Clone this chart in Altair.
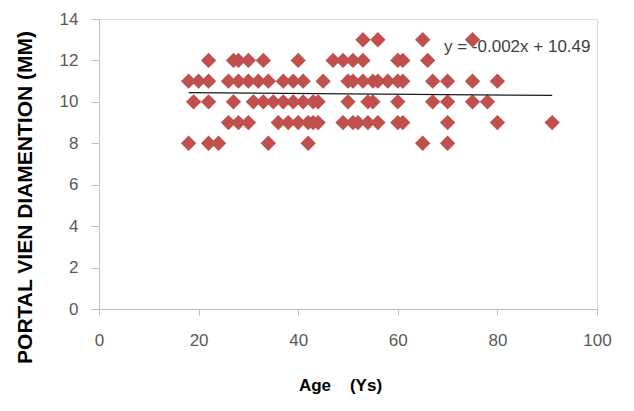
import altair as alt
import pandas as pd

# One list of ages per diameter row (mm)
row_13 = [53, 56, 65, 75]
row_12 = [22, 27, 28, 30, 33, 40, 47, 49, 51, 53, 60, 61, 66]
row_11 = [18, 20, 22, 26, 28, 30, 32, 34, 37, 39, 41, 45, 50, 51, 53, 55, 56, 58, 60, 61, 67, 70, 75, 80]
row_10 = [19, 22, 27, 31, 33, 35, 37, 39, 41, 43, 44, 50, 54, 55, 60, 67, 70, 75, 78]
row_9 = [26, 28, 30, 36, 38, 40, 42, 43, 44, 49, 51, 52, 54, 56, 60, 61, 70, 80, 91]
row_8 = [18, 22, 24, 34, 42, 65, 70]

trend_x = [18, 91]
trend_y = [10.45, 10.31]
equation = "y = -0.002x + 10.49"

x_ticks = [0, 20, 40, 60, 80, 100]
y_ticks = [0, 2, 4, 6, 8, 10, 12, 14]

rows = {13: row_13, 12: row_12, 11: row_11, 10: row_10, 9: row_9, 8: row_8}
pts = pd.DataFrame(
    [{"age": a, "diam": d} for d, ages in rows.items() for a in ages]
)
trend = pd.DataFrame({"age": trend_x, "diam": trend_y})

FONT = "Liberation Sans"
LABEL = "#595959"
AXIS = "#BFBFBF"

x_enc = alt.X(
    "age:Q",
    scale=alt.Scale(domain=[0, 100], nice=False, zero=True),
    axis=alt.Axis(
        values=x_ticks, title="Age \u00a0\u00a0\u00a0(Ys)", grid=False,
        domainColor=AXIS, tickColor=AXIS, tickSize=6, labelFlush=False,
        labelColor=LABEL, labelFont=FONT, labelFontSize=17, labelPadding=17,
        titleFont=FONT, titleFontSize=17, titleFontWeight="bold", titleColor="#000000",
        titleX=241, titleY=76, titleBaseline="middle",
    ),
)
y_enc = alt.Y(
    "diam:Q",
    scale=alt.Scale(domain=[0, 14], nice=False),
    axis=alt.Axis(
        values=y_ticks, title="PORTAL VIEN DIAMENTION (MM)", grid=False,
        domainColor=AXIS, tickColor=AXIS, tickSize=8, labelFlush=False,
        labelColor=LABEL, labelFont=FONT, labelFontSize=17, labelPadding=13,
        titleFont=FONT, titleFontSize=21, titleFontWeight="bold", titleColor="#000000",
        titleX=-74, titleY=178, titleBaseline="middle", titleAngle=-90,
    ),
)

points = alt.Chart(pts).mark_point(
    shape="diamond", filled=True, size=235, color="#C0504D", opacity=1
).encode(x=x_enc, y=y_enc)

line = alt.Chart(trend).mark_line(color="#1a1a1a", strokeWidth=1.2).encode(
    x="age:Q", y="diam:Q"
)

eq = alt.Chart(pd.DataFrame({"t": [equation]})).mark_text(
    align="left", baseline="alphabetic", font=FONT, fontSize=17, color="#404040"
).encode(x=alt.value(345), y=alt.value(33), text="t:N")

chart = (
    alt.layer(points, line, eq)
    .properties(
        width=498, height=290,
        autosize=alt.AutoSizeParams(type="none"),
        padding={"left": 91, "top": 11, "right": 27, "bottom": 85},
    )
    .configure_view(stroke=None)
    .configure(background="#FFFFFF")
)

chart.save("out.html", embed_options={"renderer": "svg", "actions": False})
